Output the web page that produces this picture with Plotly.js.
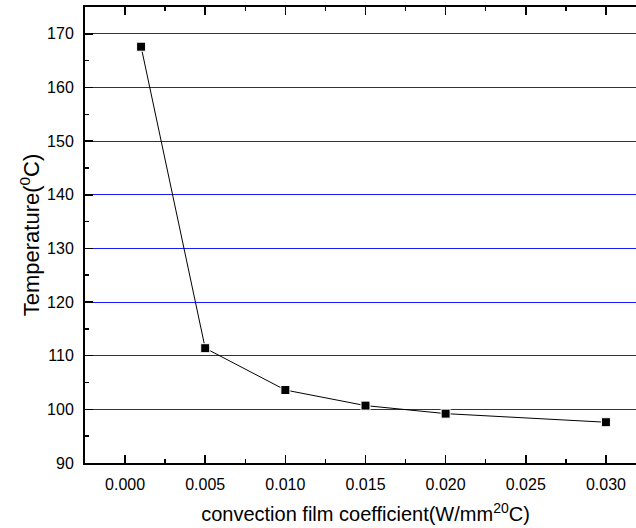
<!DOCTYPE html>
<html>
<head>
<meta charset="utf-8">
<script src="https://cdn.plot.ly/plotly-3.0.1.min.js"></script>
<style>
html,body{margin:0;padding:0;overflow:hidden;background:#fff;}
#chart{width:650px;height:528px;}
</style>
</head>
<body>
<div id="chart"></div>
<script>
const coefficient = [0.001, 0.005, 0.010, 0.015, 0.020, 0.030];
const temperature = [167.6, 111.4, 103.6, 100.7, 99.2, 97.6];
const xTicks = [0.000, 0.005, 0.010, 0.015, 0.020, 0.025, 0.030];
const xTickLabels = ['0.000', '0.005', '0.010', '0.015', '0.020', '0.025', '0.030'];
const yTicks = [90, 100, 110, 120, 130, 140, 150, 160, 170];

const trace = {
  x: coefficient,
  y: temperature,
  type: 'scatter',
  mode: 'lines+markers',
  line: {color: '#000', width: 1},
  marker: {symbol: 'square', size: 9, color: '#000', line: {color: '#fff', width: 1}},
  cliponaxis: false,
  hoverinfo: 'none'
};

const fontFam = 'Liberation Sans, Arial, sans-serif';

const layout = {
  width: 650,
  height: 528,
  margin: {l: 85, r: 4, t: 7, b: 65},
  paper_bgcolor: '#fff',
  plot_bgcolor: '#fff',
  showlegend: false,
  font: {family: fontFam, color: '#000', size: 16},
  xaxis: {
    range: [-0.0025, 0.0325],
    tickvals: xTicks,
    ticktext: xTickLabels,
    ticks: 'inside',
    ticklen: 8,
    tickwidth: 1.5,
    tickcolor: '#000',
    minor: {dtick: 0.0025, tick0: 0, ticks: 'inside', ticklen: 4, tickwidth: 1.5, tickcolor: '#000', showgrid: false},
    showline: true,
    linewidth: 2,
    linecolor: '#000',
    mirror: 'ticks',
    showgrid: false,
    zeroline: false,
    tickfont: {size: 16, family: fontFam},
    ticklabelstandoff: 6,
    title: {text: 'convection film coefficient(W/mm<sup>20</sup>C)', font: {size: 20, family: fontFam}, standoff: 15}
  },
  yaxis: {
    range: [90, 175],
    tickvals: yTicks,
    ticks: 'inside',
    ticklen: 8,
    tickwidth: 1.5,
    tickcolor: '#000',
    minor: {dtick: 5, tick0: 0, ticks: 'inside', ticklen: 4, tickwidth: 1.5, tickcolor: '#000', showgrid: false},
    showline: true,
    linewidth: 2,
    linecolor: '#000',
    mirror: 'ticks',
    showgrid: true,
    gridcolor: '#1a1aff',
    gridwidth: 1,
    zeroline: false,
    tickfont: {size: 16, family: fontFam},
    ticklabelstandoff: 6,
    title: {text: 'Temperature(<sup>0</sup>C)', font: {size: 22, family: fontFam}, standoff: 1}
  }
};

Plotly.newPlot('chart', [trace], layout, {displayModeBar: false, staticPlot: true});
</script>
</body>
</html>
